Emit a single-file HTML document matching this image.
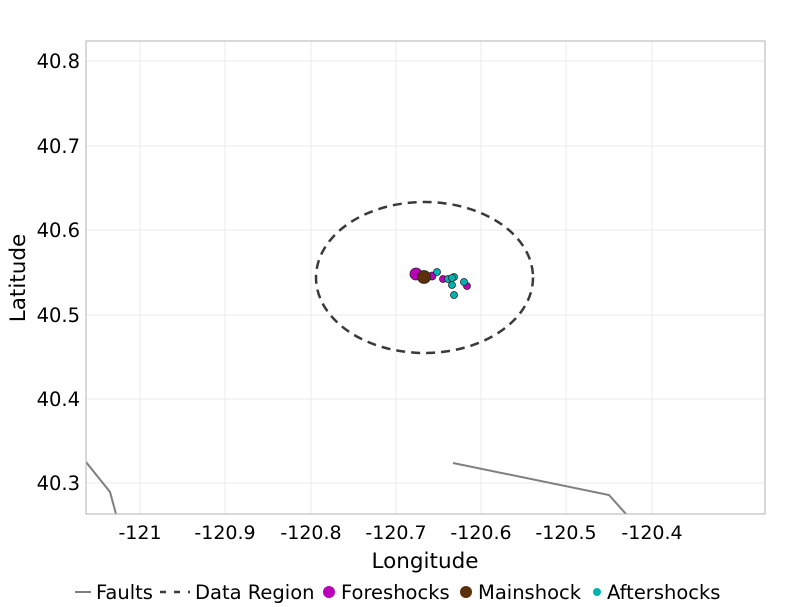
<!DOCTYPE html>
<html><head><style>body{margin:0;background:#fff}svg{display:block}</style></head><body>
<svg width="800" height="607" xmlns="http://www.w3.org/2000/svg" font-family="DejaVu Sans, Liberation Sans, sans-serif">
<rect width="800" height="607" fill="#fff"/>
<defs><clipPath id="c"><rect x="86" y="41" width="679" height="473"/></clipPath></defs>
<g stroke="#ebebeb" stroke-width="1">
<line x1="140" y1="41" x2="140" y2="514"/><line x1="225" y1="41" x2="225" y2="514"/><line x1="311" y1="41" x2="311" y2="514"/><line x1="396" y1="41" x2="396" y2="514"/><line x1="481" y1="41" x2="481" y2="514"/><line x1="566" y1="41" x2="566" y2="514"/><line x1="652" y1="41" x2="652" y2="514"/>
<line x1="86" y1="61" x2="765" y2="61"/><line x1="86" y1="146" x2="765" y2="146"/><line x1="86" y1="230" x2="765" y2="230"/><line x1="86" y1="315" x2="765" y2="315"/><line x1="86" y1="399" x2="765" y2="399"/><line x1="86" y1="483" x2="765" y2="483"/>
</g>
<g clip-path="url(#c)" fill="none">
<polyline points="86,462 110,492 116,514" stroke="#7f7f7f" stroke-width="2"/>
<polyline points="453,463 609,495 626,514" stroke="#7f7f7f" stroke-width="2"/>
<ellipse cx="424.5" cy="277.5" rx="108.5" ry="75.5" stroke="#3a3a3a" stroke-width="2.5" stroke-dasharray="9,6"/>
</g>
<g stroke="#222" stroke-width="0.8">
<circle cx="416" cy="274" r="6" fill="#bb00bb"/>
<circle cx="432" cy="276" r="4" fill="#bb00bb"/>
<circle cx="443" cy="279" r="3.5" fill="#bb00bb"/>
<circle cx="467" cy="286" r="3.5" fill="#bb00bb"/>
<circle cx="424" cy="277" r="6.5" fill="#5a2f0a"/>
<circle cx="437" cy="272" r="3.5" fill="#00b3b3"/>
<circle cx="448" cy="279" r="3.5" fill="#00b3b3"/>
<circle cx="454" cy="277" r="3.5" fill="#00b3b3"/>
<circle cx="452" cy="278" r="3.5" fill="#00b3b3"/>
<circle cx="452" cy="285" r="3.5" fill="#00b3b3"/>
<circle cx="454" cy="295" r="3.5" fill="#00b3b3"/>
<circle cx="464" cy="282" r="3.5" fill="#00b3b3"/>
</g>
<rect x="86" y="41" width="679" height="473" fill="none" stroke="#b3b3b3" stroke-width="1"/>
<g font-size="19.5" fill="#000" text-anchor="end">
<text x="80" y="68">40.8</text><text x="80" y="153">40.7</text><text x="80" y="237">40.6</text><text x="80" y="322">40.5</text><text x="80" y="406">40.4</text><text x="80" y="490">40.3</text>
</g>
<g font-size="19" fill="#000" text-anchor="middle">
<text x="140" y="539">-121</text><text x="225" y="539">-120.9</text><text x="311" y="539">-120.8</text><text x="396" y="539">-120.7</text><text x="481" y="539">-120.6</text><text x="566" y="539">-120.5</text><text x="652" y="539">-120.4</text>
<text x="425" y="568" font-size="21.5">Longitude</text>
</g>
<text transform="translate(25,278) rotate(-90)" font-size="21.5" text-anchor="middle">Latitude</text>
<g font-size="19.5" fill="#000">
<line x1="75" y1="592" x2="91" y2="592" stroke="#7f7f7f" stroke-width="2"/>
<text x="96" y="599">Faults</text>
<line x1="160" y1="592" x2="190" y2="592" stroke="#3a3a3a" stroke-width="2.5" stroke-dasharray="6,8"/>
<text x="195" y="599">Data Region</text>
<circle cx="329" cy="592" r="6" fill="#bb00bb"/>
<text x="341" y="599">Foreshocks</text>
<circle cx="466" cy="592" r="6" fill="#5a2f0a"/>
<text x="478" y="599">Mainshock</text>
<circle cx="597" cy="592" r="4" fill="#00b3b3"/>
<text x="607" y="599">Aftershocks</text>
</g>
</svg>
</body></html>
